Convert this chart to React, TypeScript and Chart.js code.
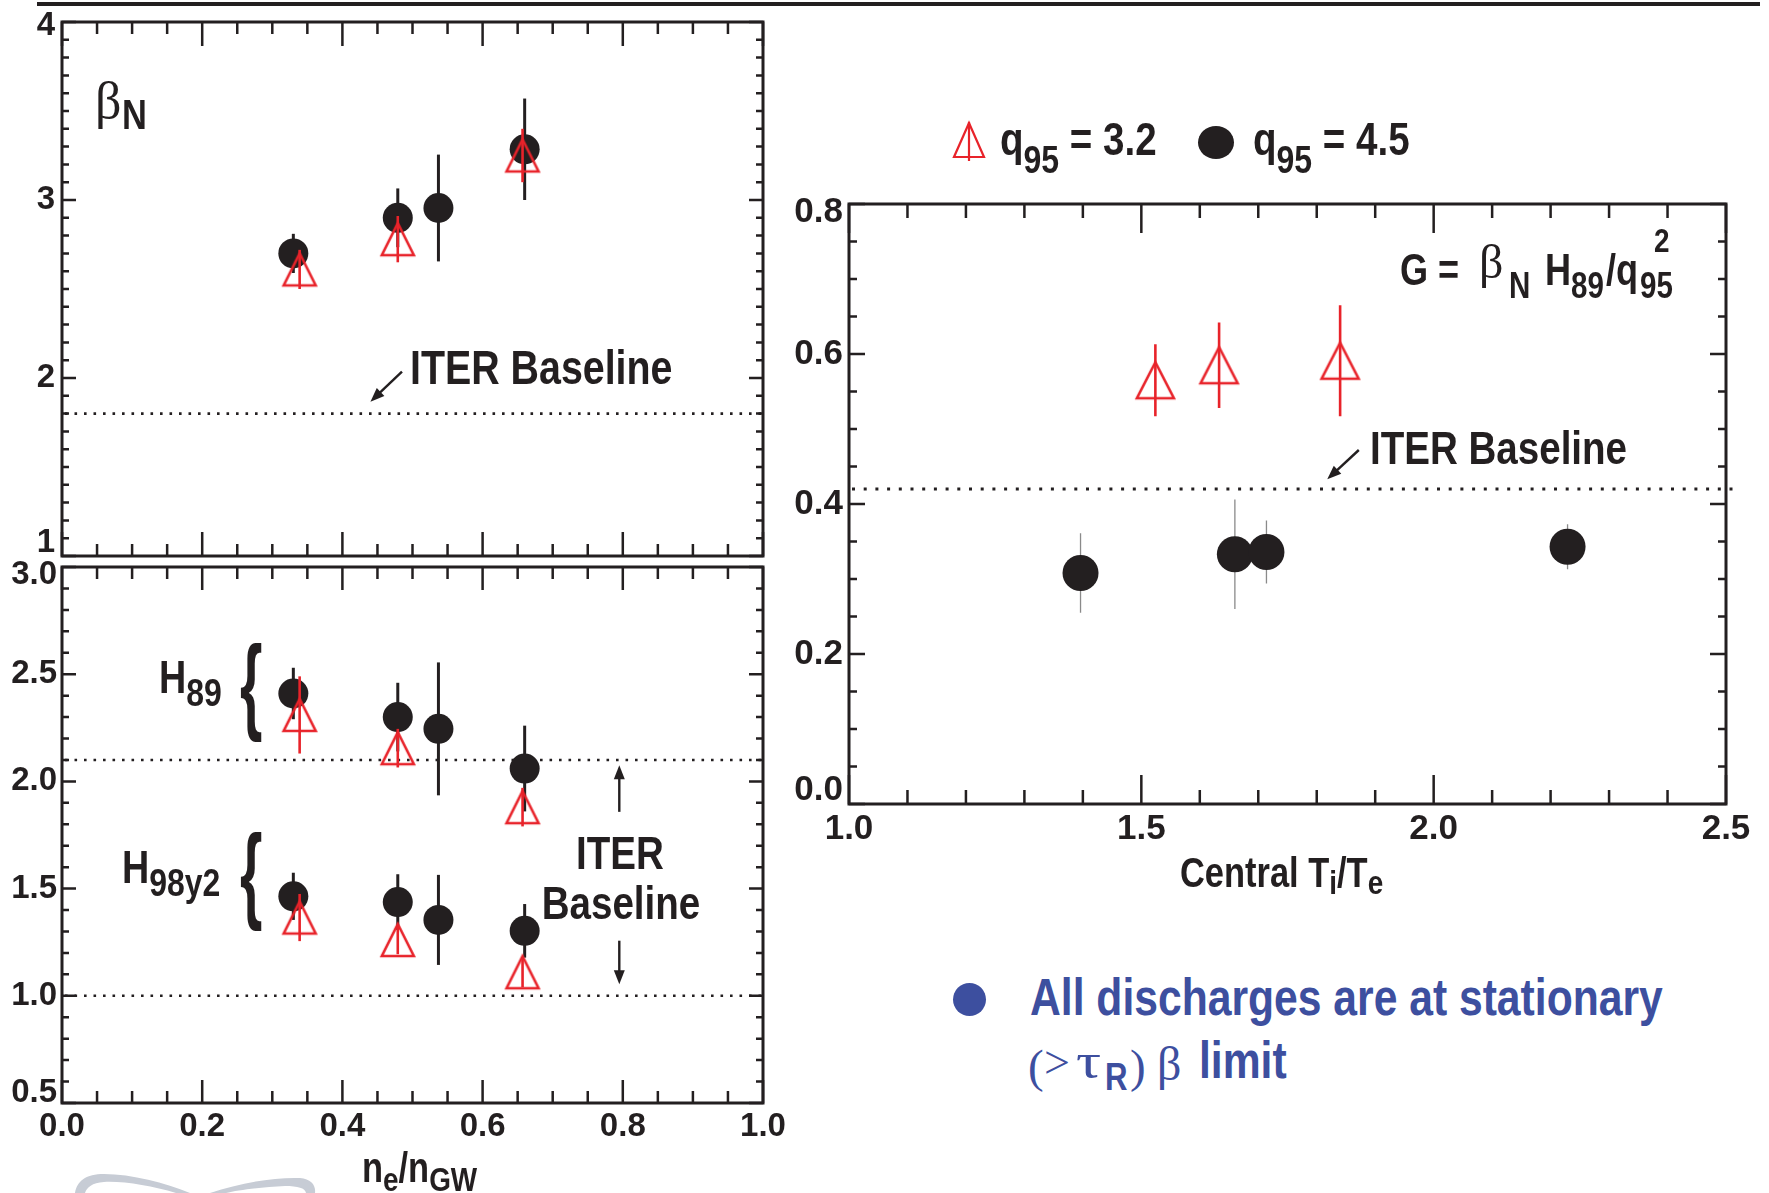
import React, { useEffect, useRef } from 'react';
import { Chart, registerables } from 'chart.js';

Chart.register(...registerables);

const INK = '#231f20';
const RED = '#e8232a';
const BLUE = '#3d4f9f';
const SERIF = '"Liberation Serif", "DejaVu Serif", serif';
const SANS = '"Liberation Sans", Arial, sans-serif';
const NARROW_X = 0.82;

// ---------------- data ----------------
// x values (n_e / n_GW)
const densityCircles = [0.33, 0.479, 0.537, 0.66];
const densityTriangles = [0.339, 0.479, 0.657];
// beta_N
const betaCircles = [2.7, 2.9, 2.955, 3.285];
const betaCirclesErr = [0.11, 0.165, 0.3, 0.285];
const betaTriangles = [2.61, 2.78, 3.25];
const betaTrianglesErr = [0.11, 0.13, 0.15];
// H89
const h89Circles = [2.41, 2.3, 2.245, 2.06];
const h89CirclesErr = [0.12, 0.16, 0.31, 0.2];
const h89Triangles = [2.31, 2.155, 1.88];
const h89TrianglesErr = [0.18, 0.09, 0.09];
// H98y2
const h98Circles = [1.464, 1.437, 1.354, 1.303];
const h98CirclesErr = [0.11, 0.13, 0.21, 0.125];
const h98Triangles = [1.365, 1.26, 1.11];
const h98TrianglesErr = [0.11, 0.066, 0.07];
// G vs central Ti/Te
const tiTeCircles = [1.396, 1.66, 1.714, 2.229];
const gCircles = [0.308, 0.333, 0.336, 0.343];
const gCirclesErr = [0.053, 0.073, 0.042, 0.03];
const tiTeTriangles = [1.524, 1.633, 1.84];
const gTriangles = [0.565, 0.585, 0.591];
const gTrianglesErr = [0.048, 0.057, 0.074];

// ITER baseline reference levels
const betaBaseline = [1.8];
const hBaselines = [2.1, 1.0];
const gBaseline = [0.42];

// tick labels
const densityTickLabels = ['0.0', '0.2', '0.4', '0.6', '0.8', '1.0'];
const betaTickLabels = ['1', '2', '3', '4'];
const hTickLabels = ['0.5', '1.0', '1.5', '2.0', '2.5', '3.0'];
const tiTeTickLabels = ['1.0', '1.5', '2.0', '2.5'];
const gTickLabels = ['0.0', '0.2', '0.4', '0.6', '0.8'];

// ---------------- helpers ----------------
function makeTriangle(w: number, h: number, lw: number, color: string) {
  const m = 5;
  const c = document.createElement('canvas');
  c.width = w + 2 * m;
  c.height = h + 2 * m;
  const g = c.getContext('2d')!;
  g.strokeStyle = color;
  g.lineWidth = lw;
  g.lineJoin = 'miter';
  g.beginPath();
  g.moveTo(c.width / 2, m);
  g.lineTo(m + w, m + h);
  g.lineTo(m, m + h);
  g.closePath();
  g.stroke();
  return c;
}

function drawArrow(ctx: CanvasRenderingContext2D, x1: number, y1: number, x2: number, y2: number) {
  const ang = Math.atan2(y2 - y1, x2 - x1);
  const hl = 14, hw = 5.5;
  const cx = Math.cos(ang), sy = Math.sin(ang);
  ctx.beginPath();
  ctx.moveTo(x1, y1);
  ctx.lineTo(x2 - cx * hl * 0.7, y2 - sy * hl * 0.7);
  ctx.stroke();
  ctx.beginPath();
  ctx.moveTo(x2, y2);
  ctx.lineTo(x2 - cx * hl - sy * hw, y2 - sy * hl + cx * hw);
  ctx.lineTo(x2 - cx * hl + sy * hw, y2 - sy * hl - cx * hw);
  ctx.closePath();
  ctx.fill();
}

type Series = { x: number[]; y: number[]; err: number[] };
type AxisCfg = {
  min: number; max: number; step: number; minor: number;
  labels: string[] | null; fontSize: number; majorLen: number; minorLen: number;
  shifts?: Record<number, number>; padding: number;
};
type PanelCfg = {
  width: number; height: number;
  padding: { top: number; left: number; right: number; bottom: number };
  yAxisWidth: number; xAxisHeight: number;
  x: AxisCfg; y: AxisCfg;
  circles: Series[]; triangles: Series[];
  circleRadius: number; triW: number; triH: number;
  circleErrColor: string; circleErrWidth: number;
  baselines: number[]; dash: number[]; dotWidth: number; baselineExtra: number;
  arrows: { x1: number; y1: number; x2: number; y2: number }[];
};

function errBars(ctx: CanvasRenderingContext2D, xs: any, ys: any, sets: Series[]) {
  for (const s of sets) {
    for (let i = 0; i < s.x.length; i++) {
      const px = xs.getPixelForValue(s.x[i]);
      ctx.beginPath();
      ctx.moveTo(px, ys.getPixelForValue(s.y[i] - s.err[i]));
      ctx.lineTo(px, ys.getPixelForValue(s.y[i] + s.err[i]));
      ctx.stroke();
    }
  }
}

const decorPlugin = {
  id: 'decor',
  beforeDatasetsDraw(chart: any, _a: any, o: any) {
    const cfg: PanelCfg = o.cfg;
    const { ctx, chartArea: a } = chart;
    const xs = chart.scales.x, ys = chart.scales.y;
    ctx.save();
    ctx.strokeStyle = INK;
    ctx.lineWidth = cfg.dotWidth;
    ctx.setLineDash(cfg.dash);
    for (const b of cfg.baselines) {
      const py = ys.getPixelForValue(b);
      ctx.beginPath();
      ctx.moveTo(a.left + 3, py);
      ctx.lineTo(a.right + cfg.baselineExtra, py);
      ctx.stroke();
    }
    ctx.setLineDash([]);
    ctx.strokeStyle = cfg.circleErrColor;
    ctx.lineWidth = cfg.circleErrWidth;
    errBars(ctx, xs, ys, cfg.circles);
    ctx.restore();
  },
  afterDatasetsDraw(chart: any, _a: any, o: any) {
    const cfg: PanelCfg = o.cfg;
    const { ctx, chartArea: a } = chart;
    const xs = chart.scales.x, ys = chart.scales.y;
    ctx.save();
    ctx.strokeStyle = RED;
    ctx.lineWidth = 2.6;
    errBars(ctx, xs, ys, cfg.triangles);
    // frame
    ctx.strokeStyle = INK;
    ctx.fillStyle = INK;
    ctx.lineWidth = 3;
    ctx.strokeRect(a.left, a.top, a.right - a.left, a.bottom - a.top);
    // inward ticks on all four sides
    ctx.lineWidth = 2.5;
    const isMajor = (v: number, min: number, step: number) =>
      Math.abs((v - min) / step - Math.round((v - min) / step)) < 1e-6;
    const X = cfg.x, Y = cfg.y;
    for (let k = 0; X.min + k * X.minor <= X.max + 1e-9; k++) {
      const v = X.min + k * X.minor;
      const len = isMajor(v, X.min, X.step) ? X.majorLen : X.minorLen;
      const px = xs.getPixelForValue(v);
      ctx.beginPath();
      ctx.moveTo(px, a.bottom); ctx.lineTo(px, a.bottom - len);
      ctx.moveTo(px, a.top); ctx.lineTo(px, a.top + len);
      ctx.stroke();
    }
    for (let k = 0; Y.min + k * Y.minor <= Y.max + 1e-9; k++) {
      const v = Y.min + k * Y.minor;
      const len = isMajor(v, Y.min, Y.step) ? Y.majorLen : Y.minorLen;
      const py = ys.getPixelForValue(v);
      ctx.beginPath();
      ctx.moveTo(a.left, py); ctx.lineTo(a.left + len, py);
      ctx.moveTo(a.right, py); ctx.lineTo(a.right - len, py);
      ctx.stroke();
    }
    // arrows
    ctx.lineWidth = 2.4;
    for (const ar of cfg.arrows) {
      drawArrow(ctx, xs.getPixelForValue(ar.x1), ys.getPixelForValue(ar.y1), xs.getPixelForValue(ar.x2), ys.getPixelForValue(ar.y2));
    }
    ctx.restore();
  },
};

function axisOptions(ax: AxisCfg, horizontal: boolean, size: number) {
  const shifts = ax.shifts || {};
  return {
    type: 'linear',
    min: ax.min,
    max: ax.max,
    ticks: {
      display: !!ax.labels,
      stepSize: ax.step,
      autoSkip: false,
      maxRotation: 0,
      minRotation: 0,
      padding: ax.padding,
      color: INK,
      font: (c: any) => {
        const s = shifts[c.index];
        return { family: SANS, weight: 'bold', size: ax.fontSize, lineHeight: s ? `${2 * Math.abs(s)}px` : 1.2 };
      },
      callback: (_v: any, i: number) => {
        const lab = ax.labels ? ax.labels[i] : '';
        const s = shifts[i];
        if (!s) return lab;
        return s > 0 ? ['', lab] : [lab, ''];
      },
    },
    grid: { display: false, drawTicks: false },
    border: { display: false },
    afterFit: (s: any) => {
      if (horizontal) s.height = size; else s.width = size;
      s.paddingLeft = 0; s.paddingRight = 0; s.paddingTop = 0; s.paddingBottom = 0;
    },
  };
}

function buildConfig(cfg: PanelCfg): any {
  const tri = makeTriangle(cfg.triW, cfg.triH, 2.6, RED);
  const datasets: any[] = [];
  cfg.triangles.forEach((s) =>
    datasets.push({
      data: s.x.map((xv, i) => ({ x: xv, y: s.y[i] })),
      pointStyle: tri,
      pointRadius: cfg.triW / 2,
      pointHoverRadius: cfg.triW / 2,
      order: 0,
    })
  );
  cfg.circles.forEach((s) =>
    datasets.push({
      data: s.x.map((xv, i) => ({ x: xv, y: s.y[i] })),
      pointStyle: 'circle',
      pointRadius: cfg.circleRadius,
      pointHoverRadius: cfg.circleRadius,
      backgroundColor: INK,
      borderWidth: 0,
      pointBorderWidth: 0,
      order: 1,
    })
  );
  return {
    type: 'scatter',
    data: { datasets },
    options: {
      animation: false,
      responsive: false,
      devicePixelRatio: 1,
      events: [],
      layout: { padding: cfg.padding },
      plugins: { legend: { display: false }, tooltip: { enabled: false }, decor: { cfg } },
      scales: {
        x: axisOptions(cfg.x, true, cfg.xAxisHeight),
        y: axisOptions(cfg.y, false, cfg.yAxisWidth),
      },
    },
    plugins: [decorPlugin],
  };
}

// ---------------- panels ----------------
const betaPanel: PanelCfg = {
  width: 800, height: 600,
  padding: { top: 22, left: 0, right: 37, bottom: 44 },
  yAxisWidth: 62, xAxisHeight: 0,
  x: { min: 0, max: 1, step: 0.2, minor: 0.05, labels: null, fontSize: 33, majorLen: 24, minorLen: 12, padding: 2 },
  y: { min: 1, max: 4, step: 1, minor: 0.1, labels: betaTickLabels, fontSize: 33, majorLen: 14, minorLen: 7, padding: 7, shifts: { 0: -13, 3: 4 } },
  circles: [{ x: densityCircles, y: betaCircles, err: betaCirclesErr }],
  triangles: [{ x: densityTriangles, y: betaTriangles, err: betaTrianglesErr }],
  circleRadius: 15, triW: 32, triH: 32,
  circleErrColor: INK, circleErrWidth: 3,
  baselines: betaBaseline, dash: [2.6, 6.9], dotWidth: 2.6, baselineExtra: 0,
  arrows: [{ x1: 0.485, y1: 2.036, x2: 0.44, y2: 1.867 }],
};

const hPanel: PanelCfg = {
  width: 800, height: 673,
  padding: { top: 47, left: 0, right: 37, bottom: 40 },
  yAxisWidth: 62, xAxisHeight: 50,
  x: { min: 0, max: 1, step: 0.2, minor: 0.05, labels: densityTickLabels, fontSize: 33, majorLen: 23, minorLen: 12, padding: 4 },
  y: { min: 0.5, max: 3, step: 0.5, minor: 0.1, labels: hTickLabels, fontSize: 33, majorLen: 14, minorLen: 7, padding: 5, shifts: { 0: -10, 5: 8 } },
  circles: [
    { x: densityCircles, y: h89Circles, err: h89CirclesErr },
    { x: densityCircles, y: h98Circles, err: h98CirclesErr },
  ],
  triangles: [
    { x: densityTriangles, y: h89Triangles, err: h89TrianglesErr },
    { x: densityTriangles, y: h98Triangles, err: h98TrianglesErr },
  ],
  circleRadius: 15, triW: 32, triH: 32,
  circleErrColor: INK, circleErrWidth: 3,
  baselines: hBaselines, dash: [2.6, 6.9], dotWidth: 2.6, baselineExtra: 0,
  arrows: [
    { x1: 0.795, y1: 1.858, x2: 0.795, y2: 2.075 },
    { x1: 0.795, y1: 1.257, x2: 0.795, y2: 1.054 },
  ],
};

const gPanel: PanelCfg = {
  width: 989, height: 680,
  padding: { top: 24, left: 0, right: 43, bottom: 6 },
  yAxisWidth: 69, xAxisHeight: 50,
  x: { min: 1, max: 2.5, step: 0.5, minor: 0.1, labels: tiTeTickLabels, fontSize: 35, majorLen: 29, minorLen: 14, padding: 4 },
  y: { min: 0, max: 0.8, step: 0.2, minor: 0.05, labels: gTickLabels, fontSize: 35, majorLen: 16, minorLen: 8, padding: 6, shifts: { 0: -14, 4: 8 } },
  circles: [{ x: tiTeCircles, y: gCircles, err: gCirclesErr }],
  triangles: [{ x: tiTeTriangles, y: gTriangles, err: gTrianglesErr }],
  circleRadius: 18, triW: 37, triH: 36,
  circleErrColor: '#8a8a8a', circleErrWidth: 1.3,
  baselines: gBaseline, dash: [3, 8.7], dotWidth: 3, baselineExtra: 8,
  arrows: [{ x1: 1.872, y1: 0.472, x2: 1.818, y2: 0.433 }],
};

function Panel({ cfg, left, top }: { cfg: PanelCfg; left: number; top: number }) {
  const ref = useRef<HTMLCanvasElement>(null);
  useEffect(() => {
    const chart = new Chart(ref.current as HTMLCanvasElement, buildConfig(cfg));
    return () => chart.destroy();
  }, []);
  return (
    <canvas
      ref={ref}
      width={cfg.width}
      height={cfg.height}
      style={{ position: 'absolute', left, top, width: cfg.width, height: cfg.height }}
    />
  );
}

// ---------------- text helpers ----------------
// Bold condensed sans (Liberation Sans Bold squeezed horizontally), positioned by baseline.
function T(props: {
  x: number; base: number; size: number; anchor?: 'left' | 'center' | 'right';
  serif?: boolean; weight?: string | number; color?: string; children: any; sx?: number; style?: any;
}) {
  const { x, base, size, anchor = 'left', serif = false, weight, color = INK, children, style } = props;
  const sx = props.sx ?? (serif ? 1 : NARROW_X);
  const k = serif ? 0.8375 : 0.8465;
  const tr = anchor === 'center' ? 'translateX(-50%) ' : anchor === 'right' ? 'translateX(-100%) ' : '';
  return (
    <div
      style={{
        position: 'absolute', left: x, top: base - k * size, fontSize: size, lineHeight: 1,
        fontFamily: serif ? SERIF : SANS, fontWeight: (weight ?? (serif ? 'normal' : 'bold')) as any,
        color, whiteSpace: 'nowrap', transform: `${tr}scaleX(${sx})`, transformOrigin: anchor, ...style,
      }}
    >
      {children}
    </div>
  );
}

function S(props: { size: number; dy?: number; children: any }) {
  const { size, dy = 0, children } = props;
  return <span style={{ fontSize: size, position: 'relative', top: dy, lineHeight: 0 }}>{children}</span>;
}

const logoGray = '#c7ccd5';

export default function App() {
  return (
    <div style={{ position: 'absolute', left: 0, top: 0, width: 1769, height: 1193, overflow: 'hidden', background: '#fff' }}>
      {/* top rule */}
      <div style={{ position: 'absolute', left: 37, top: 2, width: 1723, height: 4, background: INK }} />

      {/* faint logo fragment */}
      <svg width={400} height={43} style={{ position: 'absolute', left: 0, top: 1150 }}>
        <path d="M75,43 C77,31 86,24 104,24 C132,24 165,33 190,43 L176,43 C152,36 124,31 104,32 C92,33 87,37 85,43 Z" fill={logoGray} />
        <path d="M210,43 C240,33 275,27 300,28 C311,29 316,35 315,43 L306,43 C305,38 298,36 285,36 C262,37 238,40 226,43 Z" fill={logoGray} />
      </svg>

      <Panel cfg={betaPanel} left={0} top={0} />
      <Panel cfg={hPanel} left={0} top={520} />
      <Panel cfg={gPanel} left={780} top={180} />

      {/* top-left annotations */}
      <T x={95} base={119} size={52} serif>β</T>
      <T x={122} base={130} size={42}>N</T>
      <T x={410} base={385} size={48}>ITER Baseline</T>

      {/* bottom-left annotations */}
      <T x={159} base={693} size={46}>H<S size={39} dy={13}>89</S></T>
      <T x={122} base={883} size={46}>H<S size={39} dy={13}>98y2</S></T>
      <T x={240} base={720} size={105} sx={0.55}>{'{'}</T>
      <T x={240} base={909} size={105} sx={0.55}>{'{'}</T>
      <T x={620} base={869} size={47} anchor="center">ITER</T>
      <T x={621} base={919} size={47} anchor="center">Baseline</T>
      <T x={362} base={1183} size={42}>
        n<S size={34} dy={9}>e</S>/n<S size={34} dy={9}>GW</S>
      </T>

      {/* legend */}
      <svg width={40} height={45} style={{ position: 'absolute', left: 950, top: 120, overflow: 'visible' }}>
        <polygon points="19,3 34,37 4,37" fill="none" stroke={RED} strokeWidth={2.2} />
        <line x1={19} y1={2} x2={19} y2={41} stroke={RED} strokeWidth={2.2} />
      </svg>
      <T x={1000} base={155} size={47}>q<S size={39} dy={18}>95</S> = 3.2</T>
      <div style={{ position: 'absolute', left: 1198, top: 126, width: 36, height: 33, borderRadius: '50%', background: INK }} />
      <T x={1253} base={155} size={47}>q<S size={39} dy={18}>95</S> = 4.5</T>

      {/* right panel annotations: G = beta_N H89 / q95^2 */}
      <T x={1400} base={285} size={44}>G =</T>
      <T x={1479} base={278} size={48} serif>β</T>
      <T x={1509} base={298} size={36}>N</T>
      <T x={1545} base={285} size={44}>H</T>
      <T x={1571} base={298} size={36}>89</T>
      <T x={1606} base={285} size={44}>/q</T>
      <T x={1640} base={298} size={36}>95</T>
      <T x={1654} base={252} size={34}>2</T>

      <T x={1370} base={464} size={47}>ITER Baseline</T>
      <T x={1180} base={888} size={42}>
        Central T<S size={34} dy={7}>i</S>/T<S size={34} dy={7}>e</S>
      </T>

      {/* blue note */}
      <div style={{ position: 'absolute', left: 953, top: 983, width: 33, height: 33, borderRadius: '50%', background: BLUE }} />
      <T x={1030} base={1015} size={52} color={BLUE}>All discharges are at stationary</T>
      <T x={1028} base={1082} size={47} serif color={BLUE}>(</T>
      <T x={1044} base={1079} size={46} serif color={BLUE}>&gt;</T>
      <T x={1076} base={1078} size={50} serif color={BLUE} sx={1.25}>τ</T>
      <T x={1105} base={1090} size={38} color={BLUE}>R</T>
      <T x={1130} base={1082} size={47} serif color={BLUE}>)</T>
      <T x={1157} base={1080} size={48} serif color={BLUE}>β</T>
      <T x={1199} base={1078} size={52} color={BLUE}>limit</T>
    </div>
  );
}
